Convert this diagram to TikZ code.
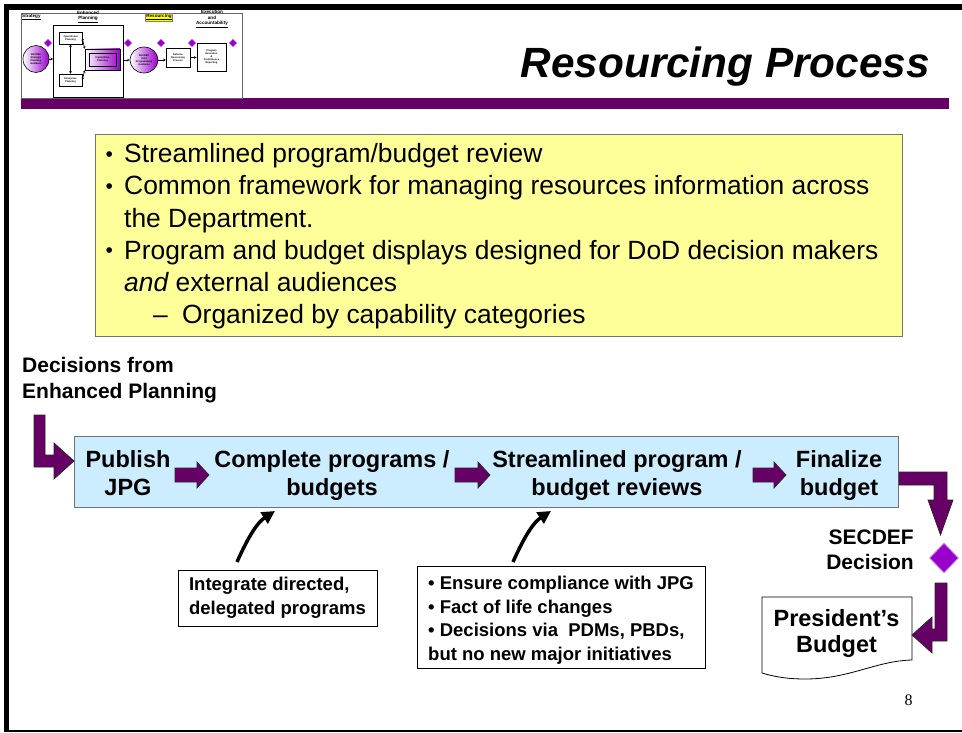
\documentclass[tikz,border=0pt]{standalone}
\usepackage{fontspec}
\setmainfont{Liberation Sans}
\newfontfamily\pnserif{Liberation Serif}
\usetikzlibrary{shapes.geometric,arrows.meta}
\definecolor{purp}{HTML}{660066}
\definecolor{vio}{HTML}{9900CC}
\definecolor{lblue}{HTML}{CCECFF}
\definecolor{lyel}{HTML}{FFFF99}
\definecolor{hiyel}{HTML}{FFFF00}
\tikzset{
 fatarr/.style={fill=purp,draw=black!85,line width=0.7pt,line join=miter},
 pics/fatr/.style={code={\filldraw[fatarr] (0,-7) -- (#1-12,-7) -- (#1-12,-13) -- (#1,0) -- (#1-12,13) -- (#1-12,7) -- (0,7) -- cycle;}},
 ytxt/.style={anchor=base west,inner sep=0,font=\fontsize{26.4}{32}\selectfont},
 ybul/.style={anchor=base west,inner sep=0,font=\fontsize{21}{21}\selectfont},
 btxt/.style={align=center,inner sep=0,font=\bfseries\fontsize{23.5}{28}\selectfont},
 ctxt/.style={draw=black,line width=1pt,fill=white,align=left,inner sep=0,font=\bfseries\fontsize{18.5}{23.5}\selectfont},
 tlab/.style={inner sep=0,font=\bfseries\fontsize{4.6}{5.2}\selectfont,align=center},
 tbox/.style={draw=black,line width=0.5pt,fill=white,inner sep=0,align=center,font=\bfseries\fontsize{2.5}{2.9}\selectfont},
 tell/.style={ellipse,draw=black,line width=0.6pt,left color=white,right color=vio,inner sep=0,align=center,font=\bfseries\fontsize{2.5}{2.9}\selectfont},
 tdia/.style={diamond,fill=vio,draw=vio!50,line width=0.3pt,minimum width=8,minimum height=8,inner sep=0},
 tarr/.style={-{Stealth[length=2.5pt,width=2.5pt]},line width=0.7pt},
 tdarr/.style={{Stealth[length=2.5pt,width=2.5pt]}-{Stealth[length=2.5pt,width=2.5pt]},line width=0.7pt},
 curvearr/.style={-{Triangle[length=13pt,width=13pt]},line width=3.5pt},
}
\begin{document}
\begin{tikzpicture}[x=1pt,y=-1pt]
\useasboundingbox (0,0) rectangle (962,733);
\fill[white] (0,0) rectangle (962,733);
% slide frame
\fill[black] (4,4) rectangle (9,731);
\fill[black] (4,4) rectangle (962,10);
\draw[black,line width=1.5pt] (4,731) -- (962,731);
\fill[purp] (21,98) rectangle (949,109);

% ---------- thumbnail ----------
\node[draw=black!60,line width=0.6pt,minimum width=221,minimum height=85,anchor=north west,inner sep=0] (thumb) at (21,13) {};
\node[tlab,anchor=west] (tstrat) at (22,17) {\underline{Strategy}};
\node[tlab] (tenhl) at (88,17) {Enhanced\\\underline{Planning}};
\node[tlab,fill=hiyel,draw=black!50,line width=0.3pt,inner sep=0.8pt] (tresl) at (159,17) {\underline{Resourcing}};
\node[tlab] (texel) at (212,19) {Execution\\and\\\underline{Accountability}};

\node[tell,minimum width=26,minimum height=27] (te1) at (36,59) {SECDEF\\Strategic\\Planning\\Guidance};
\node[draw=black,line width=0.8pt,minimum width=70,minimum height=72,anchor=north west,inner sep=0] (tenh) at (53,25) {};
\node[tbox,minimum width=23,minimum height=12] (top) at (70.5,38) {Operational\\Planning};
\node[tbox,minimum width=23,minimum height=12] (tent) at (70.5,80) {Enterprise\\Planning};
\node[tbox,left color=white,right color=vio,minimum width=35,minimum height=21] (tcap) at (102.5,59.5) {};
\node[tbox,fill=none,minimum width=27,minimum height=13] (tcapi) at (102.5,59.5) {Capabilities\\Planning};
\node[tell,minimum width=28,minimum height=26] (te2) at (144,60) {SECDEF\\Joint\\Programming\\Guidance};
\node[tbox,minimum width=24,minimum height=19] (tdef) at (178,57.5) {Defense\\Resourcing\\Process};
\node[tbox,line width=0.9pt,minimum width=29,minimum height=28] (tprog) at (211.5,57) {Program\\Execution\\\&\\Performance\\Reporting};
\node[tdia] (td1) at (48,43) {};
\node[tdia] (td2) at (128,43) {};
\node[tdia] (td3) at (161,43) {};
\node[tdia] (td4) at (192,43) {};
\node[tdia] (td5) at (233,43) {};
\draw[tarr] (te1.east) -- (te1.east -| tenh.west);
\draw[tarr] (tenh.east |- te2.west) -- (te2.west);
\draw[tarr] (te2.east) -- (te2.east -| tdef.west);
\draw[tarr] (tdef.east) -- (tdef.east -| tprog.west);
\draw[tdarr] (top.south) -- (tent.north);
\draw[tdarr] (top.east) -- (tcap.north west);
\draw[tdarr] (tent.east) -- (tcap.south west);

% ---------- title ----------
\node[anchor=base east,inner sep=0,font=\bfseries\itshape\fontsize{42.3}{50}\selectfont] (title) at (930,78) {Resourcing Process};

% ---------- yellow box ----------
\node[draw=black!55,line width=1.2pt,fill=lyel,minimum width=807,minimum height=202,anchor=north west,inner sep=0] (ybox) at (95,134) {};
\node[ybul] (yb1) at (105.5,162) {•};
\node[ytxt] (yl1) at (124,163) {Streamlined program/budget review};
\node[ybul] (yb2) at (105.5,194) {•};
\node[ytxt] (yl2) at (124,195) {Common framework for managing resources information across};
\node[ytxt] (yl3) at (124,227) {the Department.};
\node[ybul] (yb3) at (105.5,258) {•};
\node[ytxt] (yl4) at (124,259) {Program and budget displays designed for DoD decision makers};
\node[ytxt] (yl5) at (124,291) {\itshape and\upshape{} external audiences};
\node[ytxt] (yd1) at (153,323) {–};
\node[ytxt] (yl6) at (182,323) {Organized by capability categories};

% ---------- decisions label ----------
\node[anchor=base west,inner sep=0,font=\bfseries\fontsize{21}{26}\selectfont] (dec1) at (22,372) {Decisions from};
\node[anchor=base west,inner sep=0,font=\bfseries\fontsize{21}{26}\selectfont] (dec2) at (22,398) {Enhanced Planning};

% ---------- blue process box ----------
\node[draw=black!55,line width=1pt,fill=lblue,minimum width=824,minimum height=71,anchor=north west,inner sep=0] (bbox) at (74,436) {};
\node[btxt] (pub) at (128,472.7) {Publish\\JPG};
\node[btxt] (comp) at (332,475) {Complete programs /\\budgets};
\node[btxt] (strm) at (617,475) {Streamlined program /\\budget reviews};
\node[btxt] (fin) at (839,475) {Finalize\\budget};
\pic at (175,475) {fatr=34};
\pic at (455,475) {fatr=35};
\pic at (753,475) {fatr=33};

% entry bent arrow
\filldraw[fatarr] (34,415) -- (45,415) -- (45,455) -- (54,455) -- (54,443) -- (bbox.west |- 0,461) -- (54,479) -- (54,467) -- (34,467) -- cycle;
% exit bent arrow
\filldraw[fatarr] (bbox.east |- 0,472) -- (947,472) -- (947,500) -- (953,500) -- (940.5,535) -- (928,500) -- (934,500) -- (934,485) -- (bbox.east |- 0,485) -- cycle;

% ---------- SECDEF decision ----------
\node[diamond,fill=vio,draw=vio!45,line width=0.8pt,minimum width=29,minimum height=30,inner sep=0] (dia) at (944,558) {};
\node[anchor=east,align=right,inner sep=0,font=\bfseries\fontsize{21}{25}\selectfont] (secl) at (914,550) {SECDEF\\Decision};

% ---------- President's budget ----------
\draw[line width=0.8pt,fill=white] (762,597) -- (912,597) -- (912,660) .. controls (875,661) and (850,679) .. (805,679) .. controls (785,679) and (772,676) .. (762,673) -- cycle;
\node[align=center,inner sep=0,font=\bfseries\fontsize{23.5}{26}\selectfont] (pres) at (836.5,633.5) {President’s\\Budget};
\filldraw[fatarr] (935,583) -- (947,583) -- (947,641) -- (932,641) -- (932,653) -- (912,635) -- (932,617) -- (932,629) -- (935,629) -- cycle;

% ---------- callouts ----------
\node[ctxt,minimum width=199,minimum height=56] (call1) at (277.5,598) {Integrate directed,\\delegated programs};
\node[ctxt,minimum width=288,minimum height=102] (call2) at (561,617) {\rule{0pt}{20pt}• Ensure compliance with JPG\\• Fact of life changes\\• Decisions via~ PDMs, PBDs,\\but no new major initiatives};
\coordinate (ca1s) at (237,562);
\coordinate (ca1e) at (275,511);
\coordinate (ca2s) at (513,562);
\coordinate (ca2e) at (551,511);
\draw[curvearr] (ca1s) .. controls (249,535) and (258,522) .. (ca1e);
\draw[curvearr] (ca2s) .. controls (525,535) and (534,522) .. (ca2e);

% page number
\node[inner sep=0,font=\pnserif\fontsize{16}{18}\selectfont] (pnum) at (908.5,700) {8};
\end{tikzpicture}
\end{document}
